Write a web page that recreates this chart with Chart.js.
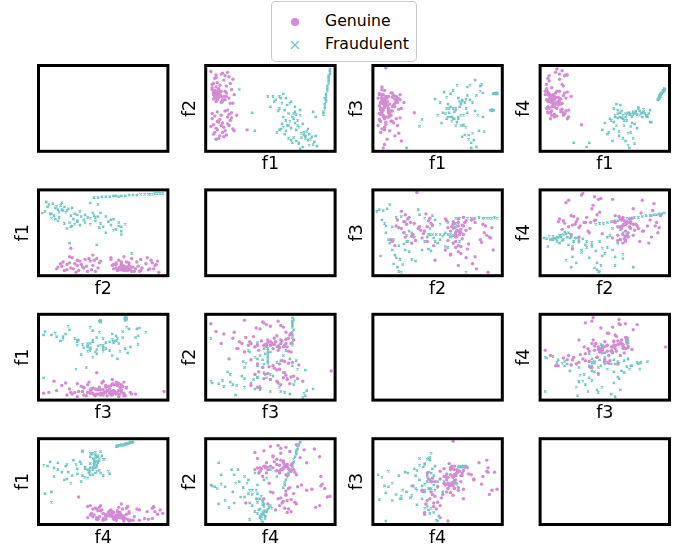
<!DOCTYPE html>
<html><head><meta charset="utf-8">
<script src="https://cdn.jsdelivr.net/npm/chart.js@4.4.1/dist/chart.umd.min.js"></script>
<style>
html,body{margin:0;padding:0;background:#fff;}
body{width:677px;height:545px;position:relative;overflow:hidden;font-family:"DejaVu Sans",sans-serif;}
.cell{position:absolute;}
.cell canvas{display:block;}
#legend{position:absolute;left:271px;top:1px;width:146px;height:61px;border:1px solid #cccccc;border-radius:4px;background:#fff;box-sizing:border-box;}
.mk{position:absolute;}
.lbl{position:absolute;left:325px;font-size:15.7px;line-height:18px;color:#000;white-space:nowrap;}
</style></head><body>
<div id="legend"></div>
<span class="mk" id="mkG" style="left:291px;top:17.5px;width:8px;height:8px;border-radius:50%;"></span>
<svg class="mk" id="mkF" style="left:290px;top:39.5px" width="10" height="10"><line x1="1" y1="1" x2="9" y2="9" stroke-width="1.3"/><line x1="9" y1="1" x2="1" y2="9" stroke-width="1.3"/></svg>
<span class="lbl" id="lbG" style="top:11.8px"></span>
<span class="lbl" id="lbF" style="top:35.2px"></span>
<script>
// ---- data (feature values, 0-100 units of each feature's plotted range) ----
const featureNames = ['f1', 'f2', 'f3', 'f4'];
const classNames = ['Genuine', 'Fraudulent'];

const f1G = [4,7,12,9,15,6,11,17,8,13,20,5,10,14,19,7,22,16,9,12,6,18,11,21,8,15,32,10,13,17,5,20,9,14,24,
  4,12,7,6,19,8,10,6,9,11,16,7,13,15,8,19,21,22,17,7,9,8,10,6,12,9,7,11,14,18,5,16,20,13,9,8,15,11,6,18,10,16,8,12,21,7,14,9,17,5,
  7,9,8,10,6,11,9,8,12,7,10,13,5,15,18];
const f2G = [29,22,42,35,24,31,18,40,27,33,45,38,15,28,36,41,24,19,46,30,20,43,37,26,14,47,25,34,22,32,44,39,25,17,42,
  93,90,85,79,79,75,72,68,66,66,64,62,60,60,58,56,56,66,48,65,67,64,69,66,70,63,68,65,83,87,74,76,72,91,80,86,70,77,61,62,73,68,89,57,84,71,64,60,92,78,
  64,65,67,63,69,66,62,70,64,66,68,58,72,88,30];
const f3G = [62,75,40,55,63,48,58,52,66,41,61,44,40,68,57,72,50,65,59,46,56,64,53,60,42,35,45,97,55,61,67,49,71,35,57,
  30,45,60,22,62,55,64,50,28,58,33,63,24,52,56,30,66,12,18,46,51,40,59,35,48,61,26,53,42,58,37,65,21,44,8,50,68,14,57,60,31,54,4,64,39,62,47,25,56,66,
  45,52,48,56,43,62,38,58,50,66,34,41,53,47,38];
const f4G = [66,88,92,62,70,58,64,78,60,96,89,50,66,63,68,82,48,61,74,56,85,65,52,69,63,90,31,62,57,94,71,62,59,54,64,
  70,62,65,52,88,58,60,45,42,60,48,66,41,57,62,44,89,40,49,60,63,38,57,46,55,65,50,43,58,76,60,55,47,50,52,45,61,40,69,42,53,46,58,63,38,67,58,47,56,73,
  59,64,61,55,66,52,57,63,68,60,62,70,78,84,45];

const f1F = [26,36,38,
  73,75,83,84,79,80,72,67,77,81,70,68,66,85,86,82,77,
  55,57,60,62,64,58,66,63,70,72,74,78,76,71,69,65,62,60,68,73,59,
  48,52,57,60,62,59,57,65,61,64,68,70,69,73,83,85,53,56,69,
  80,76,74,
  54,58,63,67,71,75,79,61,64,50,66,72,
  93,93,94,94,94,95,95,95,95,96,96,96,96,95,
  91,91,92,92,92,93,93,92];
const f2F = [72,45,24,
  3,5,8,11,13,7,9,10,15,14,12,16,13,18,6,17,18,
  22,25,28,24,30,26,27,30,25,28,21,23,22,30,33,35,36,40,38,42,32,
  64,64,64,67,62,56,50,56,48,44,44,43,52,48,46,40,58,47,46,
  20,19,16,
  60,62,54,40,36,32,26,20,15,52,58,10,
  64,67,70,73,76,79,82,85,88,90,92,94,96,86,
  43,46,49,52,55,58,60,62];
const f3F = [4,29,37,
  75,77,76,78,83,65,61,58,57,42,42,42,38,68,23,24,21,
  69,63,52,50,50,40,40,38,30,28,19,13,4,19,17,77,71,67,30,45,45,
  61,57,50,40,38,50,38,34,40,48,55,31,60,65,70,40,33,44,58,
  5,10,14,
  45,55,46,52,57,60,47,35,30,42,62,50,
  67,67,68,67,67,67,68,67,67,67,67,68,67,67,
  48,48,48,48,48,48,48,47];
const f4F = [10,5,10,
  44,43,42,44,45,46,43,42,47,44,43,45,40,48,34,41,42,
  36,34,44,45,42,40,44,39,22,15,45,44,50,40,43,36,40,39,21,9,30,
  25,20,50,48,54,55,26,30,23,15,7,29,45,32,40,34,22,12,4,
  49,51,47,
  38,42,47,36,33,27,40,18,38,33,12,46,
  66,67,67,68,68,69,70,70,71,71,72,72,73,70,
  60,61,61,62,63,64,64,65];

// ---- styling / layout ----
const PINK = 'rgb(212,138,212)';
const CYAN = 'rgb(110,198,198)';
const FONT = 'DejaVu Sans';
Chart.defaults.font.family = FONT;

document.getElementById('mkG').style.background = PINK;
document.querySelectorAll('#mkF line').forEach(l => l.setAttribute('stroke', CYAN));
document.getElementById('lbG').textContent = classNames[0];
document.getElementById('lbF').textContent = classNames[1];

const genuine = [f1G, f2G, f3G, f4G];
const fraud = [f1F, f2F, f3F, f4F];
function pairs(feats, xi, yi) { return feats[xi].map((v, k) => ({x: v, y: feats[yi][k]})); }

const colLeft = [38.5, 205.7, 372.9, 540.1];
const rowTop = [65.5, 189.9, 314.3, 438.7];
const AW = 129.4, AH = 85.8;
const YW = 26, XH = 24;

const framePlugin = {
  id: 'frame',
  afterDraw(chart) {
    const a = chart.chartArea, c = chart.ctx;
    c.save(); c.lineWidth = 3; c.strokeStyle = '#000'; c.lineJoin = 'miter';
    c.strokeRect(a.left, a.top, a.right - a.left, a.bottom - a.top);
    c.restore();
  }
};

for (let r = 0; r < 4; r++) {
  for (let c = 0; c < 4; c++) {
    const L = colLeft[c], T = rowTop[r];
    const cx = Math.floor(L) - YW - 6, cy = Math.floor(T) - 5;
    const padL = L - cx - YW, padT = T - cy;
    const cw = Math.ceil(L + AW + 5) - cx, ch = Math.ceil(T + AH + XH + 3) - cy;
    const padR = cw - padL - YW - AW, padB = ch - padT - AH - XH;
    const div = document.createElement('div');
    div.className = 'cell';
    div.style.left = cx + 'px'; div.style.top = cy + 'px';
    const cv = document.createElement('canvas');
    cv.width = cw; cv.height = ch; cv.style.width = cw + 'px'; cv.style.height = ch + 'px';
    div.appendChild(cv); document.body.appendChild(div);
    const diag = r === c;
    const datasets = diag ? [] : [
      {label: classNames[0], data: pairs(genuine, r, c), pointStyle: 'circle', pointRadius: 1.7,
       backgroundColor: PINK, borderColor: PINK, borderWidth: 0},
      {label: classNames[1], data: pairs(fraud, r, c), pointStyle: 'crossRot', pointRadius: 1.6,
       backgroundColor: CYAN, borderColor: CYAN, borderWidth: 1.2}
    ];
    const titleFont = {family: FONT, size: 17.5, lineHeight: 1.2};
    new Chart(cv, {
      type: 'scatter',
      data: {datasets},
      options: {
        responsive: false, animation: false, events: [],
        layout: {autoPadding: false, padding: {left: padL, top: padT, right: padR, bottom: padB}},
        plugins: {legend: {display: false}, tooltip: {enabled: false}},
        scales: {
          x: {type: 'linear', min: 0, max: 100, ticks: {display: false},
              grid: {display: false, drawTicks: false}, border: {display: false},
              title: {display: true, text: diag ? '' : featureNames[r], color: '#000', font: titleFont, padding: {top: 3, bottom: 0}}},
          y: {type: 'linear', min: 0, max: 100, ticks: {display: false},
              grid: {display: false, drawTicks: false}, border: {display: false},
              title: {display: true, text: diag ? '' : featureNames[c], color: '#000', font: titleFont, padding: {top: 0, bottom: 5}}}
        }
      },
      plugins: [framePlugin]
    });
  }
}
</script>
</body></html>
